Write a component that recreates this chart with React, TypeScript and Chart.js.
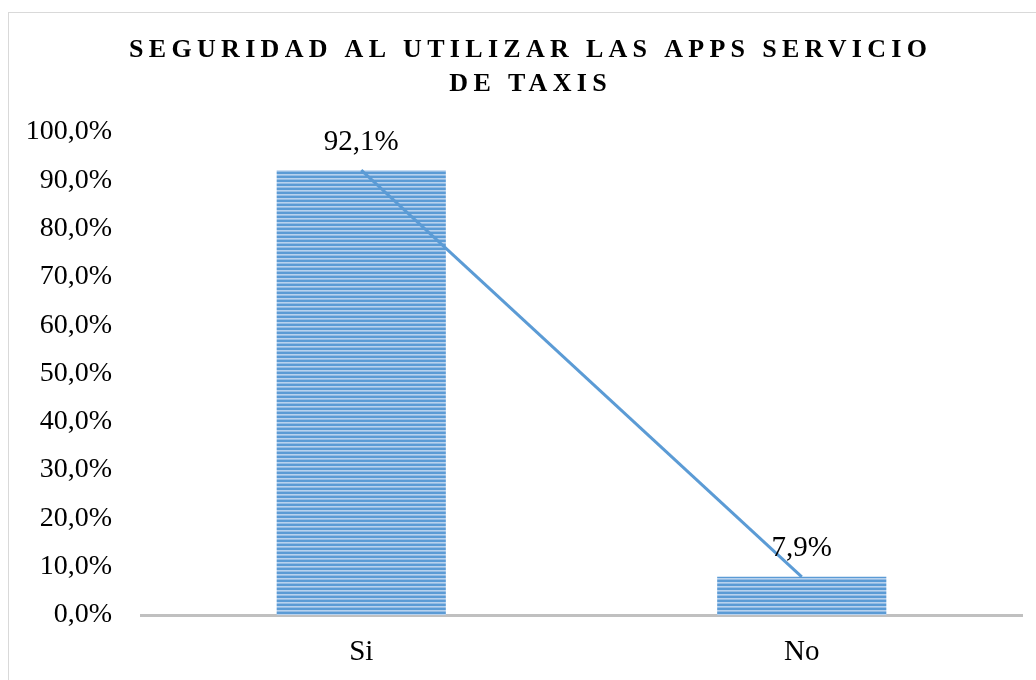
import React, { useEffect, useRef } from "react";
import { Chart, registerables } from "chart.js";

Chart.register(...registerables);

const categories: string[] = ["Si", "No"];
const values: number[] = [92.1, 7.9];
const titleLines: string[] = ["SEGURIDAD AL UTILIZAR LAS APPS SERVICIO", "DE TAXIS"];
const yMin = 0;
const yMax = 100;
const yStep = 10;

const fmt = (v: number) => v.toFixed(1).replace(".", ",") + "%";

const SERIF = '"Liberation Serif", "Times New Roman", serif';

function makePattern(): CanvasPattern | string {
  const c = document.createElement("canvas");
  c.width = 8;
  c.height = 4;
  const g = c.getContext("2d");
  if (!g) return "#5b9bd5";
  const rows = ["#5b9bd5", "#5b9bd5", "#b8d2ee", "#94bce4"];
  rows.forEach((col, i) => {
    g.fillStyle = col;
    g.fillRect(0, i, 8, 1);
  });
  const p = g.createPattern(c, "repeat");
  return p || "#5b9bd5";
}

const titlePlugin = {
  id: "customTitle",
  afterDraw(chart: any) {
    const ctx = chart.ctx as CanvasRenderingContext2D;
    ctx.save();
    const sp = 5.3;
    ctx.font = `bold 26px ${SERIF}`;
    (ctx as any).letterSpacing = `${sp}px`;
    ctx.fillStyle = "#000";
    ctx.textAlign = "center";
    ctx.textBaseline = "middle";
    const cx = 528;
    titleLines.forEach((t, i) => {
      ctx.fillText(t, cx + sp / 2, 50 + i * 34);
    });
    ctx.restore();
  },
};

const labelPlugin = {
  id: "barLabels",
  afterDatasetsDraw(chart: any) {
    const ctx = chart.ctx as CanvasRenderingContext2D;
    const meta = chart.getDatasetMeta(0);
    ctx.save();
    ctx.font = `29px ${SERIF}`;
    ctx.fillStyle = "#000";
    ctx.textAlign = "center";
    ctx.textBaseline = "middle";
    meta.data.forEach((el: any, i: number) => {
      ctx.fillText(fmt(values[i]), el.x, el.y - 28);
    });
    ctx.restore();
  },
};

export default function App() {
  const ref = useRef<HTMLCanvasElement | null>(null);
  useEffect(() => {
    if (!ref.current) return;
    const chart = new Chart(ref.current, {
      type: "bar",
      data: {
        labels: categories,
        datasets: [
          {
            type: "bar",
            data: values,
            backgroundColor: makePattern() as any,
            borderWidth: 0,
            barPercentage: 0.384,
            categoryPercentage: 1,
            order: 1,
          } as any,
          {
            type: "line",
            data: values,
            borderColor: "#5b9bd5",
            borderWidth: 3,
            pointRadius: 0,
            fill: false,
            order: 0,
          } as any,
        ],
      },
      options: {
        responsive: false,
        animation: false,
        layout: { padding: { top: 132, right: 14, left: 0, bottom: 0 } },
        plugins: {
          legend: { display: false },
          title: { display: false },
          tooltip: { enabled: false },
        },
        scales: {
          x: {
            grid: { display: false, drawTicks: false },
            border: { display: true, color: "#c0c0c0", width: 3 },
            ticks: {
              color: "#000",
              font: { family: SERIF, size: 29 },
              padding: 20,
            },
            afterFit: (s: any) => {
              s.height = 65;
            },
          },
          y: {
            min: yMin,
            max: yMax,
            grid: { display: false, drawTicks: false },
            border: { display: false },
            ticks: {
              stepSize: yStep,
              color: "#000",
              font: { family: SERIF, size: 28 },
              padding: 29,
              callback: (v: any) => fmt(Number(v)),
            },
            afterFit: (s: any) => {
              s.width = 141;
            },
          },
        },
      },
      plugins: [titlePlugin, labelPlugin],
    });
    return () => chart.destroy();
  }, []);

  return (
    <div
      style={{
        position: "absolute",
        left: 0,
        top: 0,
        width: 1036,
        height: 680,
        overflow: "hidden",
        background: "#fff",
      }}
    >
      <div
        style={{
          position: "absolute",
          left: 8,
          top: 12,
          width: 1100,
          height: 760,
          borderTop: "1.5px solid #d9d9d9",
          borderLeft: "1.5px solid #d9d9d9",
        }}
      />
      <canvas
        ref={ref}
        width={1036}
        height={680}
        style={{ position: "absolute", left: 0, top: 0 }}
      />
    </div>
  );
}
